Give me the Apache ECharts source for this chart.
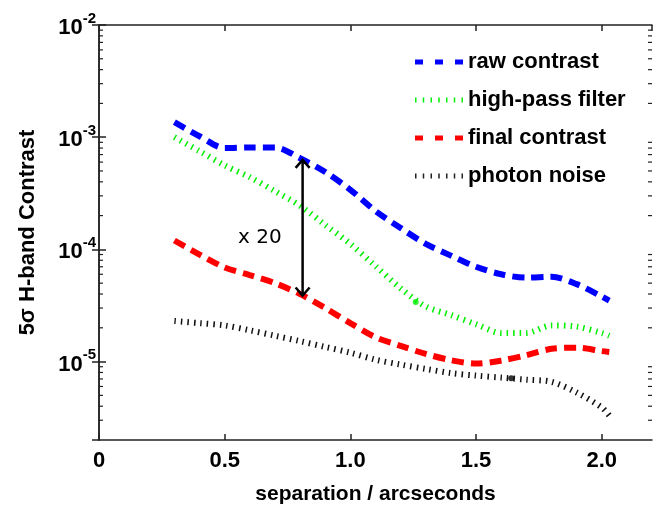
<!DOCTYPE html>
<html>
<head>
<meta charset="utf-8">
<script src="https://cdn.jsdelivr.net/npm/echarts@6/dist/echarts.min.js"></script>
<style>
html,body{margin:0;padding:0;background:#fff;}
#chart{width:660px;height:510px;}
</style>
</head>
<body>
<div id="chart"></div>
<script>
// ---- data ----
const separation = [0.3,0.4,0.5,0.6,0.7,0.8,0.9,1.0,1.1,1.2,1.3,1.4,1.5,1.6,1.7,1.8,1.9,2.0,2.03];
const rawContrast = [1.36e-3,1.02e-3,8.0e-4,8.1e-4,8.1e-4,6.5e-4,4.9e-4,3.4e-4,2.2e-4,1.55e-4,1.12e-4,8.8e-5,7.0e-5,6.0e-5,5.6e-5,5.7e-5,4.9e-5,3.8e-5,3.5e-5];
const highPassFilter = [1.0e-3,7.5e-4,5.6e-4,4.4e-4,3.3e-4,2.45e-4,1.65e-4,1.12e-4,7.1e-5,4.5e-5,3.1e-5,2.6e-5,2.15e-5,1.8e-5,1.8e-5,2.1e-5,2.05e-5,1.8e-5,1.7e-5];
const finalContrast = [1.2e-4,9.0e-5,6.9e-5,5.9e-5,5.0e-5,4.0e-5,3.0e-5,2.2e-5,1.65e-5,1.38e-5,1.17e-5,1.03e-5,9.6e-6,1.02e-5,1.14e-5,1.3e-5,1.33e-5,1.24e-5,1.22e-5];
const photonNoise = [2.3e-5,2.2e-5,2.1e-5,1.9e-5,1.7e-5,1.52e-5,1.35e-5,1.2e-5,1.04e-5,9.4e-6,8.6e-6,7.9e-6,7.5e-6,7.2e-6,6.9e-6,6.6e-6,5.3e-6,3.9e-6,3.3e-6];
const seriesNames = ['raw contrast','high-pass filter','final contrast','photon noise'];
const greenDot = [[1.26, 3.4e-5]];
const blackDot = [[1.64, 7.1e-6]];
const arrowSpan = [[0.81, 6.4e-4, 3.8e-5]];
const annotation = [[0.64, 1.28e-4, 'x 20']];
const xTicks = [0, 0.5, 1.0, 1.5, 2.0];
const xLabels = ['0','0.5','1.0','1.5','2.0'];
const yMin = 2e-6, yMax = 1e-2, xMin = 0, xMax = 2.2;
const minorTickValues = [];
[-6,-5,-4,-3].forEach(function(e){ for (let m = 2; m <= 9; m++) { const v = m * Math.pow(10, e); if (v > yMin && v < yMax) minorTickValues.push(v); } });

const zip = arr => separation.map((x, i) => [x, arr[i]]);
const FONT = 'Liberation Sans';

// legend icon shapes (dash / dot patterns)
const dashIcon = 'path://M0,0h8v5h-8z M20,0h8v5h-8z M40,0h8v5h-8z';
const dotIcon = 'path://M0,0h1.5v5h-1.5z M7.75,0h1.5v5h-1.5z M15.5,0h1.5v5h-1.5z M23.25,0h1.5v5h-1.5z M31,0h1.5v5h-1.5z M38.75,0h1.5v5h-1.5z M46.5,0h1.5v5h-1.5z';
const legendIcons = [dashIcon, dotIcon, dashIcon, dotIcon];

const chart = echarts.init(document.getElementById('chart'), null, {renderer: 'canvas'});

function supLabel(v) {
  const e = Math.round(Math.log10(v));
  return '{b|10}{s|' + e + '}';
}

const axisLineStyle = {color: '#222', width: 1.5};

const option = {
  backgroundColor: '#fff',
  animation: false,
  grid: {left: 99, right: 8, top: 25, bottom: 67},
  legend: {
    data: seriesNames.map((n, i) => ({name: n, icon: legendIcons[i]})),
    orient: 'vertical',
    left: 415, top: 50,
    padding: 0,
    itemWidth: 48, itemHeight: 5, itemGap: 14,
    textStyle: {fontFamily: FONT, fontWeight: 'bold', fontSize: 22, color: '#000', lineHeight: 24}
  },
  xAxis: [{
    type: 'value', min: xMin, max: xMax, interval: 0.5,
    name: 'separation / arcseconds', nameLocation: 'middle', nameGap: 44,
    nameTextStyle: {fontFamily: FONT, fontWeight: 'bold', fontSize: 21, color: '#000'},
    axisLine: {show: true, lineStyle: axisLineStyle},
    axisTick: {show: true, inside: true, length: 6, lineStyle: axisLineStyle},
    axisLabel: {
      margin: 10, fontFamily: FONT, fontWeight: 'bold', fontSize: 22, color: '#000',
      showMaxLabel: false,
      formatter: function (v) { const i = xTicks.findIndex(t => Math.abs(t - v) < 1e-9); return i >= 0 ? xLabels[i] : ''; }
    },
    splitLine: {show: false}
  }, {
    type: 'value', min: xMin, max: xMax, interval: 0.5, position: 'top',
    axisLine: {show: true, lineStyle: axisLineStyle},
    axisTick: {show: true, inside: true, length: 6, lineStyle: axisLineStyle},
    axisLabel: {show: false}, splitLine: {show: false}
  }],
  yAxis: [{
    type: 'log', logBase: 10, min: yMin, max: yMax,
    name: '5\u03c3 H-band Contrast', nameLocation: 'middle', nameGap: 60,
    nameTextStyle: {fontFamily: FONT, fontWeight: 'bold', fontSize: 22, color: '#000'},
    axisLine: {show: true, lineStyle: axisLineStyle},
    axisTick: {show: true, inside: true, length: 7, lineStyle: axisLineStyle},
    axisLabel: {
      margin: 3, showMinLabel: false,
      formatter: supLabel,
      rich: {
        b: {fontFamily: FONT, fontWeight: 'bold', fontSize: 22, color: '#000', lineHeight: 28, verticalAlign: 'bottom'},
        s: {fontFamily: FONT, fontWeight: 'bold', fontSize: 15, color: '#000', lineHeight: 28, verticalAlign: 'top'}
      }
    },
    splitLine: {show: false}
  }, {
    type: 'log', logBase: 10, min: yMin, max: yMax, position: 'right',
    axisLine: {show: true, lineStyle: axisLineStyle},
    axisTick: {show: true, inside: true, length: 7, lineStyle: axisLineStyle},
    axisLabel: {show: false}, splitLine: {show: false}
  }],
  series: [
    {
      name: seriesNames[0], type: 'line', data: zip(rawContrast), symbol: 'none', smooth: 0.3,
      itemStyle: {color: '#0000ff'},
      lineStyle: {color: '#0000ff', width: 6, type: [12, 7]}, z: 4
    },
    {
      name: seriesNames[1], type: 'line', data: zip(highPassFilter), symbol: 'none', smooth: 0.3,
      itemStyle: {color: '#00ee00'},
      lineStyle: {color: '#00ee00', width: 6, type: [1.5, 5]}, z: 3
    },
    {
      name: seriesNames[2], type: 'line', data: zip(finalContrast), symbol: 'none', smooth: 0.3,
      itemStyle: {color: '#ff0000'},
      lineStyle: {color: '#ff0000', width: 6, type: [12, 7]}, z: 4
    },
    {
      name: seriesNames[3], type: 'line', data: zip(photonNoise), symbol: 'none', smooth: 0.3,
      itemStyle: {color: '#222'},
      lineStyle: {color: '#111', width: 6, type: [1.5, 5]}, z: 3
    },
    {
      type: 'scatter', data: greenDot, symbolSize: 6, itemStyle: {color: '#00ee00'}, z: 5, silent: true
    },
    {
      type: 'scatter', data: blackDot, symbolSize: 6, itemStyle: {color: '#000'}, z: 5, silent: true
    },
    {
      type: 'custom', data: arrowSpan, z: 6, silent: true,
      encode: {x: 0, y: [1, 2]},
      renderItem: function (params, api) {
        const x = api.value(0);
        const a = api.coord([x, api.value(1)]);
        const b = api.coord([x, api.value(2)]);
        const w = 7, h = 9;
        const st = {stroke: '#000', lineWidth: 2.5, fill: null};
        return {type: 'group', children: [
          {type: 'line', shape: {x1: a[0], y1: a[1] + 1, x2: b[0], y2: b[1] - 1}, style: st},
          {type: 'polyline', shape: {points: [[a[0] - w, a[1] + h], [a[0], a[1] + 1], [a[0] + w, a[1] + h]]}, style: st},
          {type: 'polyline', shape: {points: [[b[0] - w, b[1] - h], [b[0], b[1] - 1], [b[0] + w, b[1] - h]]}, style: st}
        ]};
      }
    },
    {
      type: 'custom', data: annotation, z: 6, silent: true,
      encode: {x: 0, y: 1},
      renderItem: function (params, api) {
        const p = api.coord([api.value(0), api.value(1)]);
        return {type: 'text', x: p[0], y: p[1], style: {text: annotation[params.dataIndex][2], fontFamily: 'DejaVu Sans', fontSize: 20, fill: '#000', align: 'center', verticalAlign: 'middle'}};
      }
    },
    {
      type: 'custom', data: minorTickValues.map(v => [xMin, v]), z: 2, silent: true,
      encode: {x: 0, y: 1},
      renderItem: function (params, api) {
        const v = api.value(1);
        const l = api.coord([xMin, v]);
        const r = api.coord([xMax, v]);
        const st = {stroke: '#222', lineWidth: 1.2};
        return {type: 'group', children: [
          {type: 'line', shape: {x1: l[0], y1: l[1], x2: l[0] + 4, y2: l[1]}, style: st},
          {type: 'line', shape: {x1: r[0], y1: r[1], x2: r[0] - 4, y2: r[1]}, style: st}
        ]};
      }
    }
  ]
};
chart.setOption(option);
</script>
</body>
</html>
